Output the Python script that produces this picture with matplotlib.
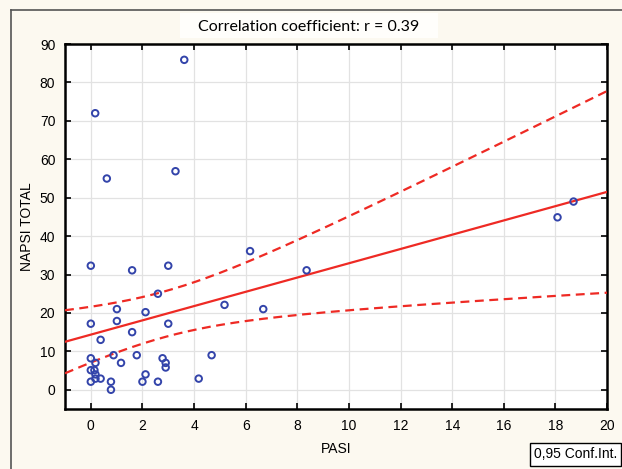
import numpy as np
import matplotlib
matplotlib.use("Agg")
import matplotlib.pyplot as plt
from matplotlib.patches import Rectangle

# Data
pasi = [0, 1.6, 3.0, 2.6, 6.17, 8.36, 1.01, 2.12, 5.18, 6.68, 0, 1.01, 3.0, 1.6,
        0.38, 0, 0.88, 1.78, 2.78, 4.68, 0.18, 1.17, 2.9, 2.9, 0, 0.14, 0.18, 0.18,
        0.38, 2.12, 0, 0.78, 2.0, 2.6, 4.18, 0.78, 3.62, 0.17, 0.62, 3.28, 18.08, 18.7]
napsi = [32.3, 31.1, 32.3, 25.0, 36.1, 31.1, 21.0, 20.2, 22.1, 21.0, 17.2, 17.9, 17.2, 15.0,
         13.0, 8.2, 9.0, 9.0, 8.2, 9.0, 7.0, 7.0, 7.0, 5.8, 5.1, 5.1, 4.0, 2.9,
         2.9, 4.0, 2.1, 2.1, 2.1, 2.1, 2.9, 0.0, 85.9, 72.0, 55.0, 56.9, 44.9, 49.0]
xticks = [0, 2, 4, 6, 8, 10, 12, 14, 16, 18, 20]
yticks = [0, 10, 20, 30, 40, 50, 60, 70, 80, 90]
title = "Correlation coefficient: r = 0.39"

x = np.array(pasi)
y = np.array(napsi)
n = len(x)
b, a = np.polyfit(x, y, 1)
resid = y - (a + b * x)
s = np.sqrt(np.sum(resid ** 2) / (n - 2))
sxx = np.sum((x - x.mean()) ** 2)
tval = 2.021
xs = np.linspace(-1, 20, 200)
ys = a + b * xs
se = s * np.sqrt(1.0 / n + (xs - x.mean()) ** 2 / sxx)

bg = "#fcf9f0"
fig = plt.figure(figsize=(6.22, 4.69), dpi=100, facecolor=bg)
ax = fig.add_axes([0.1045, 0.128, 0.8715, 0.778])
ax.set_facecolor("white")

ax.plot(xs, ys, color="#ee2a24", lw=1.6, zorder=3)
ax.plot(xs, ys + tval * se, color="#ee2a24", lw=1.6, ls=(0, (4, 2.5)), zorder=3)
ax.plot(xs, ys - tval * se, color="#ee2a24", lw=1.6, ls=(0, (4, 2.5)), zorder=3)
ax.scatter(x, y, s=22, facecolors="none", edgecolors="#3344aa", linewidths=1.4, zorder=4)

ax.set_xlim(-1, 20)
ax.set_ylim(-5, 90)
ax.set_xticks(xticks)
ax.set_yticks(yticks)
ax.grid(True, color="#e2e2e2", lw=0.9)
ax.tick_params(direction="in", length=4, width=1.2, top=True, right=True,
               labelsize=10, colors="black", pad=7)
for lab in ax.get_xticklabels() + ax.get_yticklabels():
    lab.set_fontfamily("Liberation Sans")
for sp in ax.spines.values():
    sp.set_linewidth(1.8)

ax.set_xlabel("PASI", fontsize=10, fontfamily="Liberation Sans", labelpad=7)
ax.set_ylabel("NAPSI TOTAL", fontsize=10, fontfamily="Liberation Sans", labelpad=4)

fig.add_artist(Rectangle((180 / 622, 1 - 38 / 469), 258 / 622, 25 / 469,
                         transform=fig.transFigure, facecolor="#fffefb",
                         edgecolor="none"))
fig.text(0.496, 1 - 27 / 469, title, ha="center", va="center", fontsize=11.5,
         fontfamily="Lato")

fig.text(0.925, 0.031, "0,95 Conf.Int.", ha="center", va="center", fontsize=10,
         fontfamily="Liberation Sans",
         bbox=dict(boxstyle="square,pad=0.3", facecolor="white", edgecolor="black", lw=1))

# outer frame (left and top)
fig.add_artist(plt.Line2D([0.018, 0.018], [0.0, 0.979], color="#555555", lw=1.2))
fig.add_artist(plt.Line2D([0.018, 1.0], [0.979, 0.979], color="#555555", lw=1.2))

fig.savefig("out.png", dpi=100, facecolor=bg)
